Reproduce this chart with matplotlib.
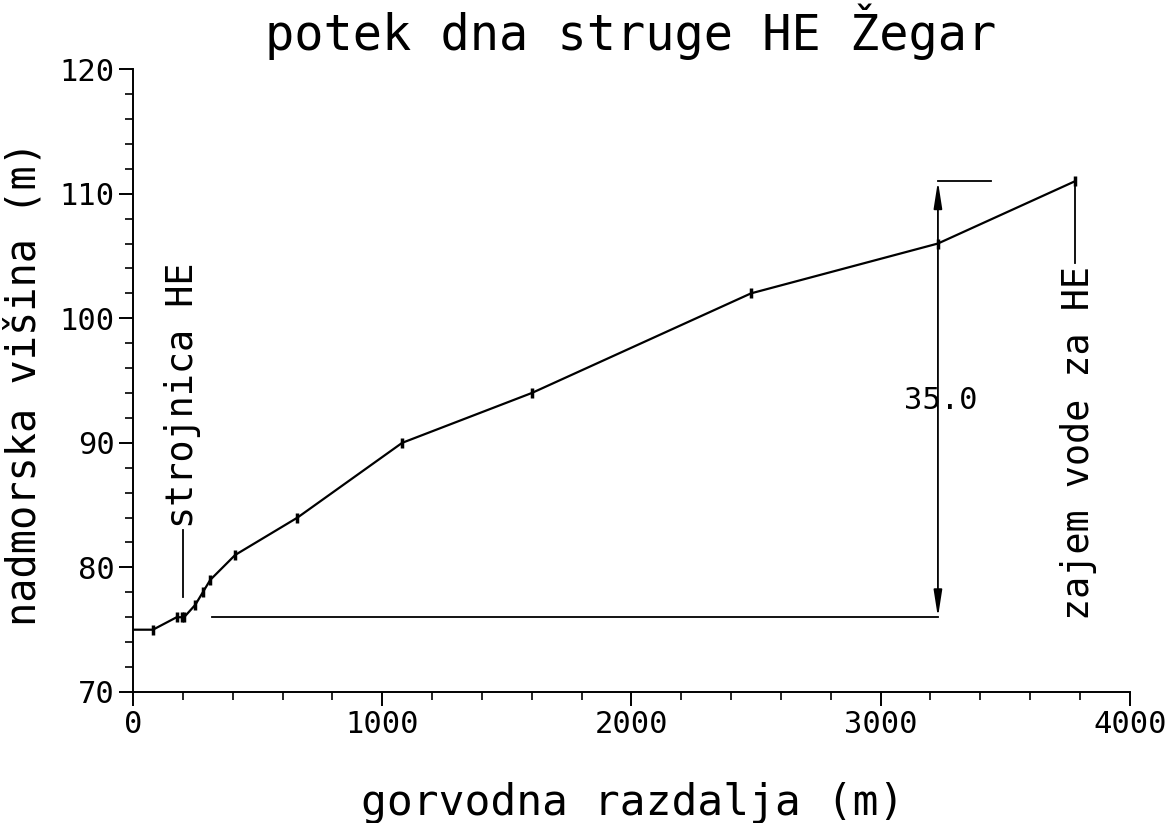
import numpy as np
import matplotlib.pyplot as plt
from matplotlib.ticker import MultipleLocator


# readings off the longitudinal profile
razdalja = [0, 80, 175, 195, 205, 250, 280, 310, 410, 660, 1080, 1600, 2480, 3230, 3780]
visina   = [75, 75, 76, 76, 76, 77, 78, 79, 81, 84, 90, 94, 102, 106, 111]

padec_x     = 3230
padec_od    = 76
padec_do    = 111
padec_label = '35.0'

x_ticks = [0, 1000, 2000, 3000, 4000]
y_ticks = [70, 80, 90, 100, 110, 120]

FONT = 'DejaVu Sans Mono'



def plot_profile():
    plt.rcParams['font.family'] = FONT

    fig = plt.figure(figsize = (11.72, 8.23), dpi = 100)
    ax  = fig.add_axes([0.1135, 0.1592, 0.8505, 0.7568])

    # river bed, no mark on the starting point
    ax.plot(razdalja, visina, color = 'black', lw = 1.6,
            marker = '|', markersize = 7, markeredgewidth = 2.5,
            markevery = list(range(1, len(razdalja))))

    # dimension for the head
    ax.plot([316, padec_x], [padec_od, padec_od], color = 'black', lw = 1.3)
    ax.plot([padec_x, 3444], [padec_do, padec_do], color = 'black', lw = 1.3)
    ax.annotate('', xy = (padec_x, padec_do), xytext = (padec_x, padec_od),
                arrowprops = dict(arrowstyle = '<|-|>,head_length=1.6,head_width=0.25',
                                  color = 'black', lw = 1.3, shrinkA = 0, shrinkB = 0))
    ax.text(padec_x + 10, 93.4, padec_label, fontsize = 22, ha = 'center', va = 'center')

    # powerhouse
    ax.plot([200, 200], [77.6, 83.0], color = 'black', lw = 1.3)
    ax.text(200, 83.2, 'strojnica HE', rotation = 90, fontsize = 26.5,
            ha = 'center', va = 'bottom')

    # water intake
    ax.plot([3780, 3780], [111, 104.4], color = 'black', lw = 1.3)
    ax.text(3795, 104.2, 'zajem vode za HE', rotation = 90, fontsize = 26.5,
            ha = 'center', va = 'top')

    ax.set_xlim(0, 4000)
    ax.set_ylim(70, 120)
    ax.set_xticks(x_ticks)
    ax.set_yticks(y_ticks)
    ax.xaxis.set_minor_locator(MultipleLocator(200))
    ax.yaxis.set_minor_locator(MultipleLocator(2))

    for side in ['top', 'right']:
        ax.spines[side].set_visible(False)
    for side in ['left', 'bottom']:
        ax.spines[side].set_linewidth(1.4)

    ax.tick_params(which = 'major', direction = 'out', length = 10, width = 1.4,
                   labelsize = 22, pad = 3)
    ax.tick_params(which = 'minor', direction = 'out', length = 6, width = 1.2)

    fig.text(0.538, 1 - 32 / 823.0, 'potek dna struge HE Žegar', fontsize = 35,
             ha = 'center', va = 'center')
    fig.text(0.54, 1 - 803 / 823.0, 'gorvodna razdalja (m)', fontsize = 31,
             ha = 'center', va = 'center')
    fig.text(25 / 1172.0, 1 - 383 / 823.0, 'nadmorska višina (m)', fontsize = 29,
             rotation = 90, ha = 'center', va = 'center')

    fig.savefig('out.png', dpi = 100, facecolor = 'white')
    plt.close(fig)



def main():
    plot_profile()




if __name__ == "__main__":
    main()
